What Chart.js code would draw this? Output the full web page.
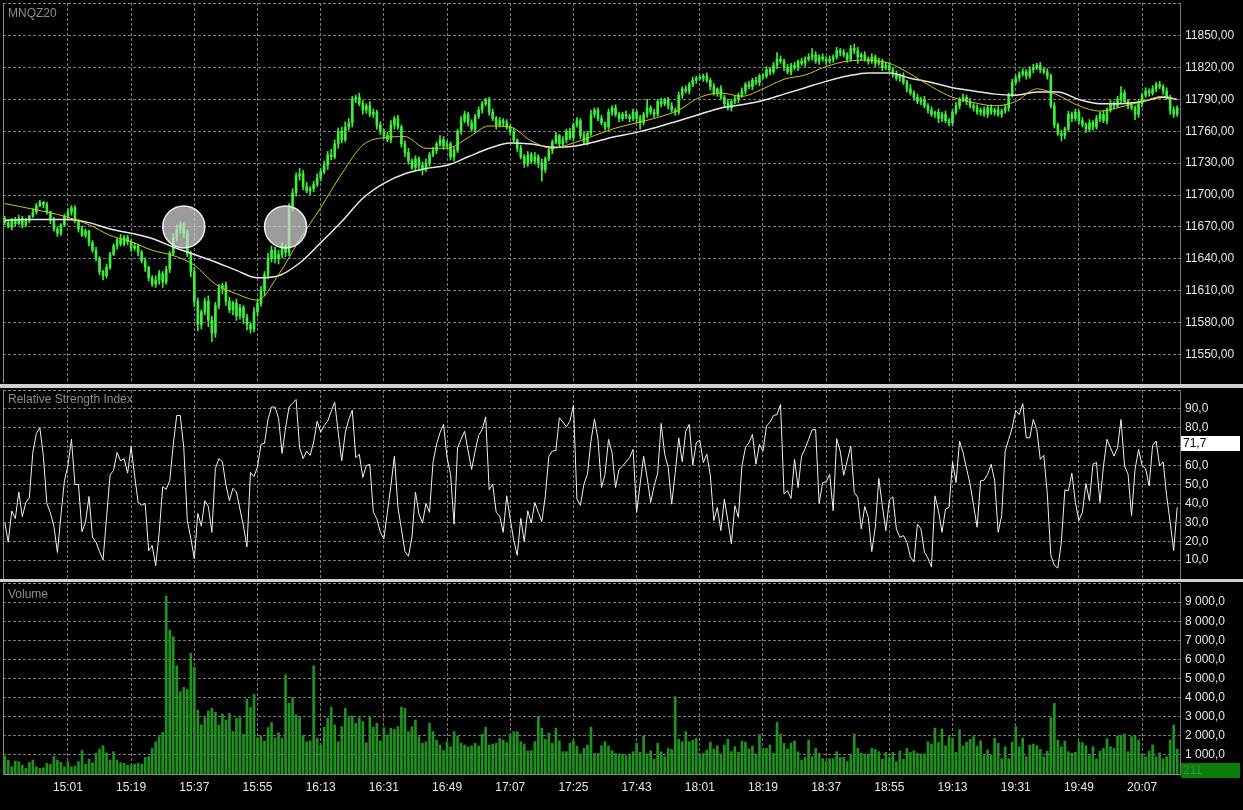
<!DOCTYPE html>
<html>
<head>
<meta charset="utf-8">
<script src="https://cdn.jsdelivr.net/npm/chart.js@4.4.1/dist/chart.umd.min.js"></script>
<style>
  html, body { margin: 0; padding: 0; background: #000; }
  #wrap { position: relative; width: 1243px; height: 810px; overflow: hidden; background: #000; }
  canvas { position: absolute; left: 0; }
  .sep { position: absolute; left: 0; width: 1243px; background: #cfcfcf; }
  .title { position: absolute; left: 8px; font: 12px "Liberation Sans", Arial, sans-serif; color: #8c8c8c; z-index: 2; }
</style>
</head>
<body>
<div id="wrap">
  <canvas id="price" width="1243" height="384" style="top:0"></canvas>
  <div class="sep" style="top:384px;height:4px"></div>
  <canvas id="rsi" width="1243" height="190" style="top:389px"></canvas>
  <div class="sep" style="top:579px;height:3px"></div>
  <canvas id="volume" width="1243" height="228" style="top:582px"></canvas>
  <div class="title" style="top:6px">MNQZ20</div>
  <div class="title" style="top:392px">Relative Strength Index</div>
  <div class="title" style="top:587px">Volume</div>
</div>
<script>
// 1-minute bars, index 0 = 14:43
const timeLabels = ['15:01','15:19','15:37','15:55','16:13','16:31','16:49','17:07','17:25','17:43','18:01','18:19','18:37','18:55','19:13','19:31','19:49','20:07'];
const timeTickIdx = [18,36,54,72,90,108,126,144,162,180,198,216,234,252,270,288,306,324];

const priceTicks = [11550,11580,11610,11640,11670,11700,11730,11760,11790,11820,11850];
const rsiTicks = [10,20,30,40,50,60,70,80,90];
const volumeTicks = [1000,2000,3000,4000,5000,6000,7000,8000,9000];

const firstOpen = 11678;
const closes = [
  11674,11670,11677,11673,11678,11672,11676,11680,11684,11690,11693,11691,11684,11676,11668,11664,11672,11680,
  11684,11688,11676,11668,11662,11666,11655,11648,11640,11628,11624,11632,11644,11652,11658,11654,11660,11656,
  11650,11652,11646,11638,11632,11622,11616,11620,11626,11618,11630,11645,11660,11668,11672,11664,11645,11628,
  11600,11578,11590,11600,11582,11570,11596,11612,11615,11600,11592,11598,11586,11594,11585,11578,11574,11590,
  11598,11610,11625,11640,11648,11640,11644,11650,11646,11690,11702,11718,11720,11708,11704,11706,11710,11716,
  11722,11728,11738,11736,11748,11760,11752,11764,11768,11790,11792,11786,11780,11784,11776,11778,11766,11760,
  11756,11752,11766,11772,11764,11748,11740,11732,11726,11734,11728,11724,11730,11738,11742,11748,11752,11746,
  11748,11736,11742,11760,11770,11776,11768,11762,11774,11780,11786,11790,11778,11772,11766,11770,11768,11764,
  11760,11752,11744,11736,11730,11738,11732,11736,11730,11724,11734,11742,11750,11756,11748,11752,11760,11754,
  11766,11770,11756,11750,11758,11776,11780,11772,11768,11764,11778,11782,11776,11772,11776,11774,11772,11778,
  11772,11768,11776,11782,11778,11776,11788,11786,11790,11784,11780,11778,11794,11800,11798,11804,11808,11810,
  11810,11812,11808,11802,11796,11800,11792,11786,11782,11788,11790,11794,11798,11804,11802,11808,11806,11812,
  11812,11818,11816,11822,11828,11826,11820,11816,11822,11820,11826,11824,11828,11830,11832,11826,11830,11828,
  11826,11828,11830,11836,11834,11832,11828,11838,11836,11830,11832,11828,11826,11830,11824,11826,11820,11822,
  11818,11814,11810,11812,11806,11800,11796,11792,11788,11790,11784,11780,11776,11778,11772,11776,11770,11768,
  11778,11784,11790,11792,11788,11784,11782,11778,11780,11776,11782,11778,11780,11776,11779,11782,11794,11806,
  11810,11814,11816,11812,11818,11820,11822,11818,11816,11812,11784,11766,11758,11756,11762,11776,11772,11778,
  11770,11766,11762,11768,11764,11772,11776,11770,11780,11786,11784,11790,11796,11788,11784,11782,11776,11786,
  11794,11798,11796,11800,11804,11802,11798,11792,11780,11776,11782
];
// wick length above / below the body, in points
const upperWick = [
  2,3,1,2,3,2,2,1,3,2,2,1,2,1,3,2,1,2,
  3,2,2,1,3,2,1,2,3,2,1,3,2,2,1,5,2,2,
  2,3,2,2,3,1,2,4,3,2,3,2,4,4,3,2,3,2,
  4,3,2,3,5,4,3,4,2,3,4,2,4,3,2,3,2,4,
  3,4,3,5,4,3,4,5,3,2,4,3,5,3,4,2,3,4,
  3,4,3,5,4,3,4,5,4,3,2,4,3,2,4,3,2,3,
  2,3,4,2,3,2,3,4,2,3,2,3,4,2,3,2,4,3,
  3,2,3,2,4,3,2,3,2,3,2,1,2,3,2,3,2,3,
  2,3,1,3,2,3,2,4,2,4,2,3,2,3,1,3,2,3,
  2,3,2,3,2,4,2,2,3,1,3,2,3,2,2,3,2,3,
  2,3,2,8,2,3,2,3,1,2,3,2,3,2,3,2,3,2,
  3,2,3,2,3,1,3,2,4,2,3,2,3,2,3,2,3,2,
  2,3,2,3,6,3,2,3,2,3,1,3,2,3,6,3,2,3,
  2,3,2,3,2,3,2,3,4,3,2,3,2,3,2,3,2,3,
  3,2,3,2,3,2,4,2,3,2,3,2,3,1,3,2,3,2,
  2,3,2,3,2,3,2,3,2,3,2,3,2,3,2,3,2,3,
  3,2,3,2,3,3,2,3,2,3,2,3,2,3,2,3,2,3,
  2,3,2,3,2,3,2,3,2,3,2,3,6,3,2,3,2,3,
  2,3,2,3,2,3,2,3,2,3,2
];
const lowerWick = [
  2,1,3,2,1,3,2,2,1,2,1,3,2,3,2,3,2,1,
  2,3,2,3,1,2,3,2,2,3,4,2,2,1,3,2,2,3,
  3,2,3,2,4,3,2,3,4,5,2,3,2,3,4,4,3,5,
  5,6,4,3,6,8,4,3,5,4,3,5,4,3,6,5,4,3,
  4,3,5,4,3,4,5,3,4,3,5,3,4,3,2,4,3,2,
  3,2,4,3,2,4,3,2,3,4,3,2,4,3,2,3,4,3,
  3,2,3,4,2,3,4,3,2,3,4,5,2,3,2,3,2,3,
  2,3,4,2,3,2,3,2,3,2,3,2,3,2,4,2,3,2,
  3,2,3,2,4,3,2,3,4,11,3,2,3,2,3,2,3,2,
  3,2,3,2,3,2,3,2,2,3,2,3,2,3,2,2,3,2,
  4,6,2,3,2,3,2,3,2,3,2,3,2,3,2,3,2,3,
  2,3,2,3,2,3,2,3,2,3,2,3,2,3,2,3,2,3,
  3,2,3,2,3,2,3,2,3,2,3,2,3,2,3,2,3,2,
  3,2,3,2,3,2,3,2,3,6,3,2,3,2,3,2,3,2,
  2,3,2,3,2,3,2,3,2,3,2,3,2,3,4,3,2,3,
  3,2,3,2,3,2,3,2,3,2,3,2,3,2,3,2,3,2,
  2,3,2,3,2,3,2,3,2,3,2,3,2,5,3,2,3,2,
  3,2,3,2,3,2,3,2,3,2,3,2,3,2,3,2,5,3,
  3,2,3,2,3,2,3,2,4,3,2
];

// moving averages, read every 6 bars
const maIdx = [0,6,12,18,24,30,36,42,48,54,60,66,72,78,84,90,96,102,108,114,120,126,132,138,144,150,156,162,168,174,180,186,192,198,204,210,216,222,228,234,240,246,252,258,264,270,276,282,288,294,300,306,312,318,324,330,334];
const maFast = [11692,11688,11684,11679,11672,11662,11656,11648,11643,11634,11616,11607,11601,11625,11658,11688,11720,11747,11754,11755,11744,11744,11754,11765,11764,11751,11744,11749,11756,11763,11768,11773,11780,11792,11796,11793,11800,11809,11813,11821,11826,11827,11824,11814,11802,11792,11787,11784,11788,11800,11794,11784,11779,11783,11788,11793,11790];
const maSlow = [11676,11677,11677,11677,11674,11668,11664,11659,11651,11644,11637,11629,11622,11624,11636,11655,11675,11697,11711,11720,11725,11728,11736,11744,11749,11748,11745,11746,11750,11755,11759,11764,11770,11776,11782,11785,11789,11795,11801,11807,11812,11815,11815,11810,11806,11801,11798,11795,11794,11797,11797,11790,11786,11786,11788,11792,11790];

// highlighted bars
const markIdx = [51, 80];
const markPrice = [11670, 11670];

const rsi = [
  30,19.5,36,32,46,33,40.5,43,67,77,80,65,40,35,28,14,33.5,52,60,74,
  50,50,25,30,43.7,22,19.5,14.5,10,32.6,55,57.5,67,62.5,63.7,56,70,54.6,40.5,39,
  40,15,17.7,7,24.7,48.8,47.5,52,71,86.5,86.5,69.5,31,21.6,10.7,34.7,28,41.4,38.4,24.7,
  58.4,63.7,62,50,41.4,48,46,37,28,17,56.3,54.2,59.3,71.2,71.8,84.4,91,91,85,66.5,
  80,91,93,95,69.5,63.7,67.7,65.4,72.5,83.5,77.7,81.2,83.5,88.8,93.5,77.4,62.5,77.4,84.4,89.3,
  64.2,66,53.7,60,60.7,35.3,31.8,24.7,21.2,35.3,49.3,65,37.9,26.5,14.5,12,22,46,34.4,
  29.6,40,35.3,61.6,71.2,77.4,81.8,64.2,55.4,29,69.5,73.9,78.2,67.7,58,67.7,76,79,85.8,47.2,
  50.2,35.3,33.2,24.7,44,31.8,20.4,12.5,32.1,19.8,36.1,29.6,40.5,35.3,30.4,44,65,67.7,68,85.3,
  83,80.5,83.5,92,42.3,39,50.2,55.4,73,84.7,73.9,48.4,55.4,73.9,66.8,48.4,58,59.8,62,64.2,
  68.6,35.3,50.2,65,53.7,40.5,49.3,56,82.3,66,59,39.6,56.3,74.7,62,78.2,81.8,60.2,72.1,73.5,
  61.6,66,54.9,30.9,37.9,25.6,42.3,30.9,18.6,38.8,32.6,59.8,69.5,72.1,76.5,60.7,71.2,67.7,80.9,83,
  86.5,87,92.3,44.9,46.7,42.6,63.3,48.4,65,69,73.9,79,79,40,51,51.4,55.4,36.1,
  74.2,67.7,54.9,62.5,70.4,45.8,43.2,26.5,38.4,32.6,14.5,27.4,53.2,38.8,25.6,41.9,43.5,26.5,22,23,
  19.5,11.6,9,29,26.5,14.2,11,6.3,44,36.1,24.7,37,37.9,62,51,73,66.8,58.4,50.2,38.8,
  27.4,52,52.3,55.4,60.7,52,24.7,33.5,67.7,73.9,80,89.3,87,92.8,74.7,74.7,84.4,79,63.3,65.4,
  44.9,12.5,7.2,5.8,19.5,47.2,46.7,56,40.5,30.9,35.3,50.5,41.4,60.7,61.6,40.5,59.8,73.9,69.5,65,
  69.5,84.4,59.8,55.4,33.5,58,68.6,60,58.4,49.3,70.7,73,59.8,62,44,30,15,37.9
];
const rsiLast = 71.7;

const volume = [
  940,730,380,680,650,470,300,610,730,380,300,330,560,510,940,730,610,380,650,380,
  420,650,1230,520,770,590,1080,1310,1480,1110,730,1170,730,590,560,470,470,510,560,520,
  870,910,1340,1690,1955,2180,9320,7540,7190,5660,4310,4540,4430,6320,5590,3350,2570,2950,3300,3440,
  3230,2570,3140,2830,3180,2220,2920,2950,2080,3930,3480,4170,1900,1990,1730,2430,2690,1900,2160,1870,
  5190,3700,4000,3090,2950,2040,1690,1740,5660,1870,1520,2450,2920,3500,2570,1690,2480,3440,2950,3040,
  2660,2950,2740,1640,3000,2450,2660,1730,2430,2040,2400,2340,2480,3500,3440,2220,2480,2830,
  1955,1610,1690,2660,2220,1780,1520,1220,1690,1430,2220,1990,1610,1520,1430,1480,1610,1465,2080,2450,
  1520,1570,1610,1870,1780,1640,2080,2220,2220,1690,1570,1220,1220,1690,3000,2400,1820,2130,1610,2400,
  1740,1170,1170,1610,1740,1465,1050,1340,1520,2450,1080,1080,1480,1690,1465,1220,1080,1050,1050,960,
  1000,1170,1610,1140,1990,1050,1220,770,1610,1170,910,1340,1290,4050,1820,1690,2220,1690,1780,1870,
  1000,1080,1260,1670,1310,1480,1050,1520,1820,1170,1430,1140,1730,1670,1310,1465,1050,2080,1340,1340,
  1520,1080,2700,2080,1610,1310,1610,1730,1170,730,870,1780,910,1340,1080,800,650,800,
  800,1170,870,870,650,1050,2100,1340,1080,1050,1050,1340,1290,1170,770,1140,870,1140,650,1200,
  770,1340,1140,1220,1080,1050,1050,1690,1570,2400,1670,2360,1480,1955,1870,1140,2320,1465,1670,1820,
  1955,1465,1740,960,1260,1000,1870,1610,800,1430,800,1670,2480,1430,1870,910,1520,1570,1480,1290,
  910,1200,2950,3700,1780,1430,1730,1170,1080,1140,1690,1640,1480,960,1430,790,1200,1340,1850,1430,
  1340,1990,2040,2100,1170,1955,1990,1780,1050,910,1200,1520,910,1110,790,910,1780,2570,1310
];
const volumeLast = 211;

const X_MIN = -0.5, X_MAX = 334.8;
const GRID = '#7a7a7a';
const FONT = { family: '"Liberation Sans", Arial, sans-serif', size: 12 };
const FONT_STR = '12px "Liberation Sans", Arial, sans-serif';
const CANDLE = '#3af03a';

const opens = closes.map((c, i) => i === 0 ? firstOpen : closes[i - 1]);
const bodies = closes.map((c, i) => ({ x: i, y: [opens[i], c] }));
const wicks = closes.map((c, i) => ({
  x: i,
  y: [Math.min(opens[i], c) - lowerWick[i], Math.max(opens[i], c) + upperWick[i]]
}));

function xAxis(showLabels) {
  return {
    type: 'linear', min: X_MIN, max: X_MAX, offset: false,
    grid: { color: GRID, offset: false, drawTicks: false },
    border: { display: showLabels, color: '#8a8a8a', dash: [3, 2] },
    ticks: {
      display: showLabels, autoSkip: false, maxRotation: 0, padding: 6,
      color: '#e6e6e6', font: FONT,
      callback: (v, i) => timeLabels[i]
    },
    afterBuildTicks: s => { s.ticks = timeTickIdx.map(v => ({ value: v })); },
    afterFit: s => {
      s.height = showLabels ? 36 : 0;
      s.paddingLeft = 0; s.paddingRight = 0;
    }
  };
}

function yAxis(min, max, ticks, fmt) {
  return {
    position: 'right', min, max,
    grid: { color: GRID, drawTicks: false },
    border: { display: true, color: '#777', dash: [3, 2] },
    ticks: { color: '#e6e6e6', font: FONT, padding: 5, callback: fmt },
    afterBuildTicks: s => { s.ticks = ticks.map(v => ({ value: v })); },
    afterFit: s => {
      s.width = 63;
      s.paddingTop = 0; s.paddingBottom = 0;
    }
  };
}

const framePlugin = {
  id: 'frame',
  beforeDatasetsDraw(chart) {
    const { ctx, chartArea: a } = chart;
    ctx.save();
    ctx.strokeStyle = '#8a8a8a';
    ctx.lineWidth = 1;
    ctx.beginPath();
    ctx.moveTo(a.left + 0.5, a.top);
    ctx.lineTo(a.left + 0.5, a.bottom);
    ctx.stroke();
    ctx.setLineDash([3, 2]);
    ctx.beginPath();
    ctx.moveTo(a.left, a.top + 0.5);
    ctx.lineTo(a.right, a.top + 0.5);
    ctx.stroke();
    ctx.restore();
  }
};

function labelBox(value, text, bg, fg) {
  return {
    id: 'labelBox',
    afterDraw(chart) {
      const { ctx } = chart;
      const y = Math.round(chart.scales.y.getPixelForValue(value));
      ctx.save();
      ctx.fillStyle = bg;
      ctx.fillRect(1181, y - 7, 59, 15);
      ctx.fillStyle = fg;
      ctx.font = FONT_STR;
      ctx.textBaseline = 'middle';
      ctx.fillText(text, 1183, y + 1);
      ctx.restore();
    }
  };
}

const common = {
  responsive: false,
  animation: false,
  events: [],
  plugins: { legend: { display: false }, tooltip: { enabled: false } }
};

new Chart(document.getElementById('price'), {
  type: 'bar',
  data: {
    datasets: [
      {
        type: 'bubble',
        data: markIdx.map((x, k) => ({ x, y: markPrice[k] })),
        radius: 21,
        backgroundColor: 'rgba(215,215,215,0.72)',
        borderColor: 'rgba(255,255,255,0.9)',
        borderWidth: 1.5
      },
      {
        type: 'line',
        data: maIdx.map((x, k) => ({ x, y: maFast[k] })),
        borderColor: '#d2c41c', borderWidth: 1, pointRadius: 0,
        cubicInterpolationMode: 'monotone'
      },
      {
        type: 'line',
        data: maIdx.map((x, k) => ({ x, y: maSlow[k] })),
        borderColor: '#e8e8e8', borderWidth: 1.5, pointRadius: 0,
        cubicInterpolationMode: 'monotone'
      },
      {
        data: bodies, backgroundColor: CANDLE, barThickness: 2,
        minBarLength: 1, grouped: false
      },
      {
        data: wicks, backgroundColor: CANDLE, barThickness: 1, grouped: false
      }
    ]
  },
  options: {
    ...common,
    layout: { autoPadding: false, padding: { left: 3, top: 3, bottom: 1, right: 0 } },
    scales: {
      x: xAxis(false),
      y: yAxis(11523, 11880.8, priceTicks, v => v.toFixed(2).replace('.', ','))
    }
  },
  plugins: [framePlugin]
});

new Chart(document.getElementById('rsi'), {
  type: 'line',
  data: {
    datasets: [{
      data: rsi.map((v, i) => ({ x: i, y: v })),
      borderColor: '#f0f0f0', borderWidth: 1, pointRadius: 0, tension: 0
    }]
  },
  options: {
    ...common,
    layout: { autoPadding: false, padding: { left: 3, top: 1, bottom: 0, right: 0 } },
    scales: {
      x: xAxis(false),
      y: yAxis(0, 100, rsiTicks, v => v.toFixed(1).replace('.', ','))
    }
  },
  plugins: [framePlugin, labelBox(rsiLast, '71,7', '#ffffff', '#000000')]
});

new Chart(document.getElementById('volume'), {
  type: 'bar',
  data: {
    datasets: [{
      data: volume.map((v, i) => ({ x: i, y: v })),
      backgroundColor: '#1f931f', barThickness: 2, grouped: false
    }]
  },
  options: {
    ...common,
    layout: { autoPadding: false, padding: { left: 3, top: 1, bottom: 0, right: 0 } },
    scales: {
      x: xAxis(true),
      y: yAxis(0, 10000, volumeTicks, v => v.toFixed(1).replace('.', ',').replace(/^(\d+)(\d{3}),/, '$1 $2,'))
    }
  },
  plugins: [framePlugin, labelBox(volumeLast, '211', '#0a7d0a', '#3c8c3c')]
});
</script>
</body>
</html>
